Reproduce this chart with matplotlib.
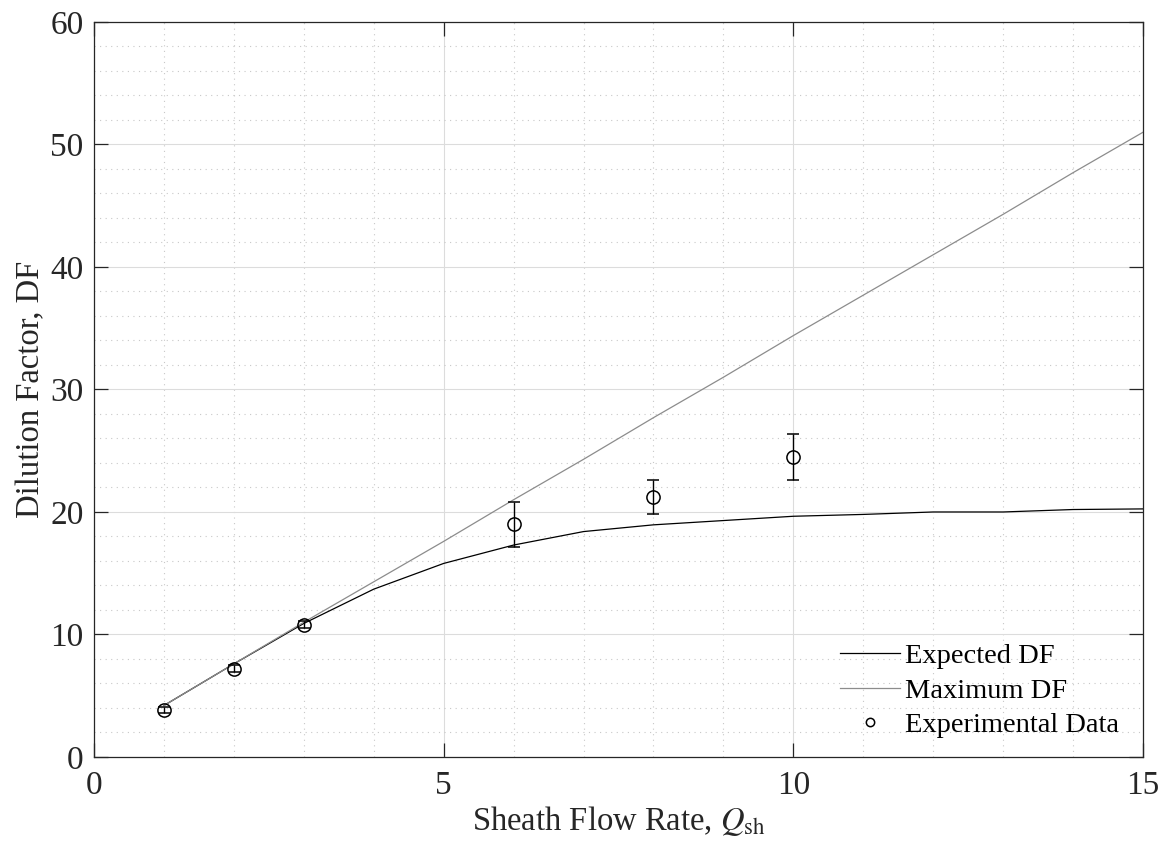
import matplotlib.pyplot as plt
from matplotlib.lines import Line2D
from matplotlib.ticker import MultipleLocator

plt.rcParams['font.family'] = ['Liberation Serif', 'DejaVu Serif']
plt.rcParams['mathtext.fontset'] = 'stix'

# sheath flow rate
q_model = [1, 2, 3, 4, 5, 6, 7, 8, 9, 10, 11, 12, 13, 14, 15]
expected_df = [4.2, 7.6, 10.9, 13.7, 15.8, 17.3, 18.4, 18.95, 19.3, 19.65,
               19.8, 20.0, 20.0, 20.2, 20.25]
max_df = [4.2, 7.6, 11.0, 14.3, 17.6, 21.0, 24.3, 27.7, 31.0, 34.4,
          37.7, 41.0, 44.3, 47.7, 51.0]

q_exp = [1, 2, 3, 6, 8, 10]
exp_df = [3.8, 7.2, 10.8, 19.0, 21.2, 24.5]
exp_err = [0.25, 0.3, 0.3, 1.85, 1.4, 1.9]

fig = plt.figure(figsize=(11.71, 8.56), dpi=100)
ax = fig.add_axes([0.0803, 0.1157, 0.8958, 0.8586])

l1, = ax.plot(q_model, expected_df, color='black', lw=0.9)
l2, = ax.plot(q_model, max_df, color='#8c8c8c', lw=0.9)
ax.errorbar(q_exp, exp_df, yerr=exp_err, fmt='o', mfc='none', mec='black',
            ecolor='black', ms=9.5, mew=1.1, elinewidth=1.0, capsize=4.5,
            capthick=1.0)
# legend shows only the open circle for the measurements
h3 = Line2D([], [], ls='none', marker='o', mfc='none', mec='black', ms=6, mew=1.1)

ax.set_xlim(0, 15)
ax.set_ylim(0, 60)
ax.xaxis.set_major_locator(MultipleLocator(5))
ax.xaxis.set_minor_locator(MultipleLocator(1))
ax.yaxis.set_major_locator(MultipleLocator(10))
ax.yaxis.set_minor_locator(MultipleLocator(2))

ax.grid(which='major', color='#dcdcdc', lw=0.8, ls='-')
ax.grid(which='minor', color='#c8c8c8', lw=0.8, ls=(0, (1, 4)))
ax.set_axisbelow(True)

ax.tick_params(which='major', direction='in', length=10, width=0.9,
               top=True, right=True, labelsize=24, colors='#262626')
ax.tick_params(axis='x', pad=10)
ax.tick_params(axis='y', pad=7.5)
ax.tick_params(which='minor', length=0)
for s in ax.spines.values():
    s.set_color('#262626')
    s.set_linewidth(0.9)

ax.set_xlabel('Sheath Flow Rate, $Q_{\\rm sh}$', fontsize=23.5, color='#262626',
              labelpad=2)
ax.set_ylabel('Dilution Factor, DF', fontsize=23.5, color='#262626', labelpad=3)

ax.legend([l1, l2, h3], ['Expected DF', 'Maximum DF', 'Experimental Data'],
          loc='lower right', bbox_to_anchor=(1.002, -0.0095), frameon=False,
          fontsize=20.5, handlelength=2.1, handletextpad=0.2, labelspacing=0.3)

fig.savefig('out.png', dpi=100)
